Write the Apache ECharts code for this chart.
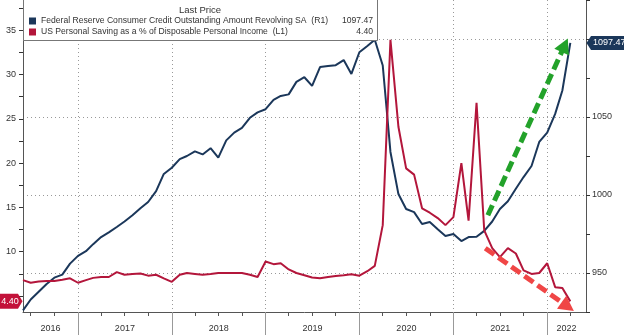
<!DOCTYPE html>
<html>
<head>
<meta charset="utf-8">
<script src="https://cdn.jsdelivr.net/npm/echarts@6/dist/echarts.min.js"></script>
<style>
  html, body { margin: 0; padding: 0; background: #fff; }
  #chart { width: 624px; height: 335px; }
</style>
</head>
<body>
<div id="chart"></div>
<script>
// Series names as shown in the legend, with the axis each one is read against
const creditName = 'Federal Reserve Consumer Credit Outstanding Amount Revolving SA';
const savingName = 'US Personal Saving as a % of Disposable Personal Income';
const axisTags = { [creditName]: '(R1)', [savingName]: '(L1)' };

// Monthly observations, first one plotted at June 2016
const startYear = 2016;
const startMonth = 6;

// Revolving consumer credit, USD bn (right axis)
const creditRevolving = [
  926, 933, 938, 943, 947, 949, 956, 961, 964, 968.5,
  973, 976, 979.5, 983, 987, 991.5, 995.5, 1002.5, 1013.5, 1017.5,
  1023, 1025, 1028, 1026, 1030, 1024, 1035, 1040, 1043, 1049.5,
  1053, 1055, 1061, 1063.5, 1064.5, 1072.5, 1075.5, 1070, 1082, 1082.7,
  1083.2, 1086.5, 1077.6, 1091.5, 1095.5, 1099.5, 1083, 1027.6, 1000.6, 991,
  989, 981.4, 982.7, 978, 973.7, 975, 970.5, 973, 973.2, 977,
  983, 991, 996, 1004, 1011.5, 1018.6, 1034, 1040, 1052, 1067,
  1097.47
];

// Personal saving rate, % of disposable income (left axis)
const savingRate = [
  6.8, 6.5, 6.65, 6.7, 6.7, 6.85, 7.0, 6.5, 6.8, 7.05,
  7.15, 7.15, 7.7, 7.4, 7.5, 7.55, 7.3, 7.4, 7.0, 6.6,
  7.4, 7.6, 7.5, 7.4, 7.5, 7.6, 7.6, 7.6, 7.6, 7.4,
  7.15, 8.9, 8.6, 8.7, 8.0, 7.6, 7.35, 7.1, 7.0, 7.15,
  7.25, 7.35, 7.45, 7.3, 7.8, 8.4, 13.0, 33.9, 24.1, 19.4,
  18.7, 14.9, 14.4, 13.8, 13.0, 13.9, 20.0, 13.5, 26.8, 12.4,
  10.4, 9.4, 10.4, 9.8, 7.9, 7.5, 7.6, 8.7, 6.0, 5.9,
  4.4
];

// Axis tick values
const leftTicks = [5, 7.5, 10, 12.5, 15, 17.5, 20, 22.5, 25, 27.5, 30, 32.5, 35, 37.5];
const leftLabels = [10, 15, 20, 25, 30, 35];
const rightGrid = [950, 1000, 1050, 1100];
const years = [2016, 2017, 2018, 2019, 2020, 2021, 2022];

const ts = (y, m, d) => new Date(y, m - 1, d || 1).getTime();
const dates = creditRevolving.map((_, i) => ts(startYear, startMonth + i));
const xMin = ts(2016, 6);
const xMax = ts(2022, 6);

const quarterTicks = [];
years.forEach(y => [1, 4, 7, 10].forEach(m => {
  const t = ts(y, m);
  if (t > xMin && t < xMax) quarterTicks.push(t);
}));
const yearStarts = years.map(y => ts(y, 1)).filter(t => t > xMin && t < xMax);
const yearLabelPos = years.map(y => (Math.max(ts(y, 1), xMin) + Math.min(ts(y + 1, 1), xMax)) / 2);

// Trend annotations, in data coordinates
const upTrend = [[ts(2021, 5, 15), 987], [ts(2022, 3, 10), 1096]];
const downTrend = [[ts(2021, 5, 5), 10.4], [ts(2022, 3, 22), 3.8]];

const NAVY = '#1b375a';
const CRIMSON = '#b3163b';
const FONT = "'Liberation Sans', Arial, sans-serif";
const AXIS = '#555';

const arrowLine = (pts, color) => ({
  silent: true,
  label: { show: false },
  emphasis: { disabled: true },
  lineStyle: { color: color, width: 5, type: [11, 5], cap: 'butt' },
  itemStyle: { color: color },
  data: [[
    { coord: pts[0], symbol: 'none' },
    { coord: pts[1], symbol: 'triangle', symbolSize: [16, 15] }
  ]]
});

const chart = echarts.init(document.getElementById('chart'), null, { renderer: 'canvas' });

chart.setOption({
  animation: false,
  backgroundColor: '#fff',
  textStyle: { fontFamily: FONT },
  grid: { left: 23, right: 38, top: 0, bottom: 23 },
  legend: {
    left: 29, top: 16, orient: 'vertical', padding: 0,
    itemWidth: 7, itemHeight: 7, itemGap: 1, icon: 'rect',
    selectedMode: false, z: 20,
    data: [creditName, savingName],
    formatter: name => {
      const last = name === creditName
        ? creditRevolving[creditRevolving.length - 1]
        : savingRate[savingRate.length - 1];
      return '{n|' + name + '  ' + axisTags[name] + '}{v|' + last.toFixed(2) + '}';
    },
    textStyle: {
      fontFamily: FONT, fontSize: 8.6, color: '#333', lineHeight: 10,
      rich: {
        n: { width: 297, fontSize: 8.6, fontFamily: FONT, color: '#333' },
        v: { width: 35, align: 'right', fontSize: 8.6, fontFamily: FONT, color: '#333' }
      }
    }
  },
  xAxis: [
    {
      type: 'value', min: xMin, max: xMax, position: 'bottom',
      axisLine: { show: true, lineStyle: { color: AXIS, width: 1 } },
      axisTick: { show: true, length: 4, customValues: quarterTicks, lineStyle: { color: AXIS } },
      axisLabel: {
        show: true, customValues: yearLabelPos, margin: 12, fontSize: 9, color: '#333',
        fontFamily: FONT, showMinLabel: true, showMaxLabel: true,
        formatter: v => String(new Date(v).getFullYear())
      },
      splitLine: { show: false }
    },
    {
      type: 'value', min: xMin, max: xMax, position: 'bottom',
      axisLine: { show: false },
      axisTick: { show: true, length: 23, customValues: yearStarts, lineStyle: { color: '#999' } },
      axisLabel: { show: false },
      splitLine: { show: true, lineStyle: { color: '#999', type: [1, 3], width: 1 } }
    }
  ],
  yAxis: [
    {
      type: 'value', position: 'left', min: 3.2, max: 38.4,
      axisLine: { show: true, lineStyle: { color: AXIS } },
      axisTick: { show: true, length: 4, customValues: leftTicks, lineStyle: { color: '#333' } },
      axisLabel: { show: true, customValues: leftLabels, fontSize: 9, color: '#333', margin: 7, fontFamily: FONT },
      splitLine: { show: false }
    },
    {
      type: 'value', position: 'right', min: 925, max: 1125, interval: 25,
      axisLine: { show: true, lineStyle: { color: AXIS } },
      axisTick: { show: true, length: 4, lineStyle: { color: '#333' } },
      axisLabel: {
        show: true, fontSize: 9, color: '#333', margin: 6, fontFamily: FONT,
        formatter: v => (v % 50 === 0 && v < 1100 ? String(v) : '')
      },
      splitLine: { show: false }
    },
    {
      type: 'value', position: 'right', min: 925, max: 1125,
      axisLine: { show: false },
      axisTick: { show: false, customValues: rightGrid },
      axisLabel: { show: false },
      splitLine: { show: true, lineStyle: { color: '#999', type: [1, 3], width: 1 } }
    }
  ],
  series: [
    {
      name: creditName, type: 'line', xAxisIndex: 0, yAxisIndex: 1,
      data: dates.map((d, i) => [d, creditRevolving[i]]),
      showSymbol: false, symbol: 'none',
      lineStyle: { color: NAVY, width: 2 }, itemStyle: { color: NAVY },
      z: 3,
      markLine: arrowLine(upTrend, '#23a22a')
    },
    {
      name: savingName, type: 'line', xAxisIndex: 0, yAxisIndex: 0,
      data: dates.map((d, i) => [d, savingRate[i]]),
      showSymbol: false, symbol: 'none',
      lineStyle: { color: CRIMSON, width: 2 }, itemStyle: { color: CRIMSON },
      z: 3,
      markLine: arrowLine(downTrend, '#f04646')
    }
  ]
});

// Legend frame, heading and last-value badges on both axes
const lastCredit = creditRevolving[creditRevolving.length - 1];
const lastSaving = savingRate[savingRate.length - 1];
const yCredit = chart.convertToPixel({ yAxisIndex: 1 }, lastCredit);
const ySaving = chart.convertToPixel({ yAxisIndex: 0 }, lastSaving);
const xLeft = chart.convertToPixel({ xAxisIndex: 0 }, xMin);
const xRight = chart.convertToPixel({ xAxisIndex: 0 }, xMax);

chart.setOption({
  graphic: [
    {
      type: 'rect', z: 15, silent: true,
      shape: { x: xLeft + 0.5, y: -1, width: 354, height: 41.5 },
      style: { fill: '#fff', stroke: '#777', lineWidth: 1 }
    },
    {
      type: 'text', z: 16, silent: true, x: 200, y: 10,
      style: { text: 'Last Price', fontSize: 9.5, fontFamily: FONT, fill: '#333', align: 'center', verticalAlign: 'middle' }
    },
    {
      type: 'polygon', z: 16, silent: true,
      shape: { points: [[0, ySaving - 7.5], [18, ySaving - 7.5], [xLeft - 0.5, ySaving], [18, ySaving + 7.5], [0, ySaving + 7.5]] },
      style: { fill: '#c3123a' }
    },
    {
      type: 'text', z: 17, silent: true, x: 10, y: ySaving,
      style: { text: lastSaving.toFixed(2), fontSize: 9, fontFamily: FONT, fill: '#fff', align: 'center', verticalAlign: 'middle' }
    },
    {
      type: 'polygon', z: 16, silent: true,
      shape: { points: [[xRight + 0.5, yCredit], [xRight + 5, yCredit - 7], [624, yCredit - 7], [624, yCredit + 7], [xRight + 5, yCredit + 7]] },
      style: { fill: NAVY }
    },
    {
      type: 'text', z: 17, silent: true, x: xRight + 7, y: yCredit,
      style: { text: lastCredit.toFixed(2), fontSize: 9, fontFamily: FONT, fill: '#fff', align: 'left', verticalAlign: 'middle' }
    }
  ]
});
</script>
</body>
</html>
